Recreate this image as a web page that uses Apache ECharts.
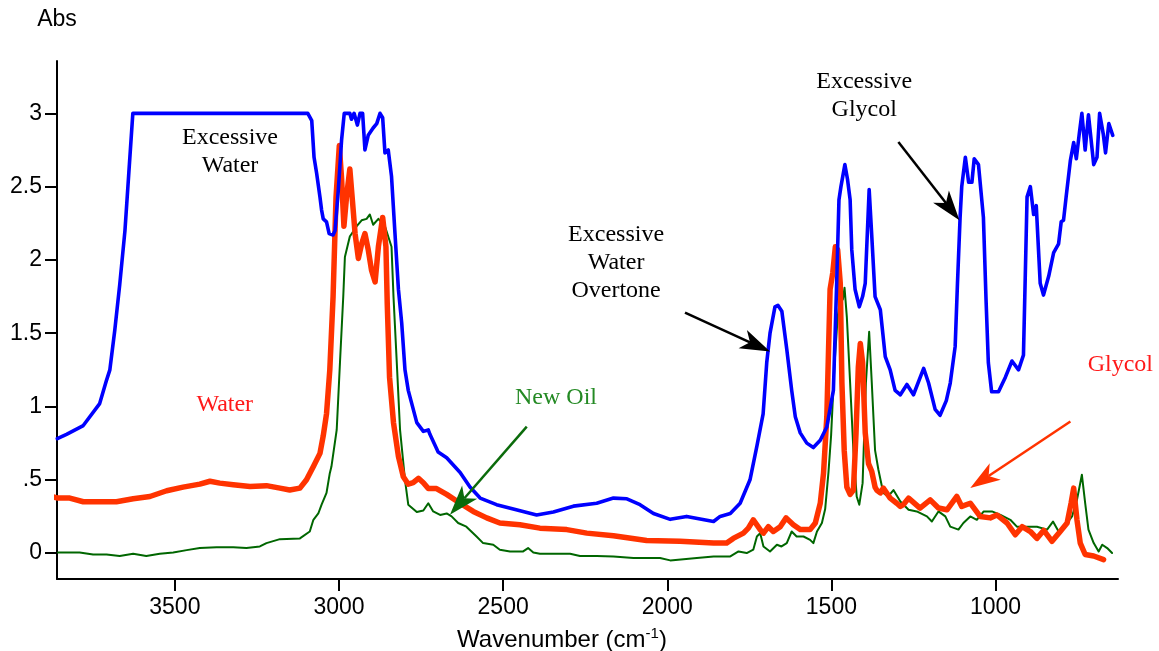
<!DOCTYPE html>
<html>
<head>
<meta charset="utf-8">
<title>IR spectra – oil contamination</title>
<script src="https://cdn.jsdelivr.net/npm/echarts@6/dist/echarts.min.js"></script>
<style>
  html, body { margin: 0; padding: 0; background: #ffffff; }
  #chart { width: 1159px; height: 651px; }
</style>
</head>
<body>
<div id="chart"></div>
<script>
// Axis ticks
const xTicks = [3500, 3000, 2500, 2000, 1500, 1000];
const yTicks = [0, 0.5, 1, 1.5, 2, 2.5, 3];

// Spectra: [wavenumber (cm-1), absorbance]
const excessive = [
  [3858,0.78],[3830,0.81],[3779,0.87],[3729,1.02],[3708,1.18],[3698,1.25],[3683,1.52],[3668,1.83],[3652,2.2],[3640,2.6],[3628,3.0],
  [3095,3.0],[3083,2.95],[3076,2.70],[3068,2.59],[3058,2.43],[3053,2.34],[3048,2.28],[3038,2.26],[3030,2.18],[3018,2.17],[3012,2.20],
  [3002,2.48],[2992,2.82],[2984,3.0],[2967,3.0],[2962,2.96],[2954,3.0],[2944,2.92],[2936,3.0],[2928,3.0],[2921,2.75],[2911,2.85],
  [2896,2.90],[2885,2.93],[2875,3.0],[2867,2.97],[2860,2.73],[2850,2.75],[2840,2.57],[2830,2.20],[2819,1.80],[2809,1.57],[2799,1.25],
  [2789,1.11],[2763,0.89],[2743,0.83],[2728,0.84],[2723,0.81],[2698,0.69],[2672,0.65],[2631,0.55],[2601,0.45],[2570,0.375],[2520,0.33],
  [2469,0.30],[2398,0.26],[2347,0.28],[2286,0.32],[2215,0.34],[2164,0.375],[2123,0.37],[2083,0.33],[2042,0.27],[1991,0.23],[1941,0.25],
  [1859,0.215],[1839,0.25],[1808,0.27],[1778,0.34],[1748,0.50],[1727,0.73],[1708,0.95],[1697,1.30],[1687,1.50],[1672,1.68],[1663,1.69],
  [1651,1.65],[1636,1.39],[1621,1.11],[1610,0.93],[1595,0.82],[1575,0.75],[1555,0.72],[1534,0.77],[1514,0.86],[1494,1.11],[1484,1.84],
  [1477,2.41],[1471,2.50],[1466,2.50],[1459,2.65],[1451,2.55],[1443,2.41],[1438,2.07],[1428,1.80],[1415,1.68],[1405,1.75],[1397,1.84],
  [1385,2.48],[1377,2.16],[1367,1.75],[1351,1.66],[1336,1.34],[1321,1.25],[1306,1.11],[1290,1.08],[1270,1.15],[1250,1.08],[1219,1.26],
  [1204,1.16],[1184,0.98],[1169,0.94],[1150,1.04],[1138,1.16],[1123,1.41],[1116,1.84],[1108,2.29],[1103,2.50],[1092,2.70],[1082,2.53],
  [1072,2.53],[1065,2.69],[1052,2.65],[1037,2.29],[1029,1.73],[1022,1.30],[1012,1.10],[991,1.10],[970,1.20],[950,1.31],[930,1.25],
  [915,1.35],[910,1.84],[904,2.43],[894,2.50],[884,2.31],[876,2.37],[864,1.84],[854,1.76],[838,1.89],[823,2.05],[808,2.11],[800,2.26],
  [793,2.27],[785,2.43],[772,2.68],[762,2.80],[754,2.69],[745,2.86],[737,3.0],[727,2.75],[717,2.99],[711,3.0],[701,2.65],[691,2.70],
  [683,3.0],[672,2.86],[665,2.73],[655,2.93],[650,2.94],[643,2.85]
];

const water = [
  [3876,0.386],[3856,0.375],[3820,0.375],[3779,0.35],[3729,0.35],[3678,0.35],[3627,0.37],[3576,0.386],[3525,0.425],[3475,0.45],
  [3424,0.47],[3393,0.49],[3363,0.477],[3322,0.466],[3271,0.454],[3221,0.46],[3180,0.443],[3150,0.43],[3119,0.443],[3099,0.50],
  [3078,0.59],[3058,0.68],[3048,0.80],[3038,0.95],[3028,1.25],[3018,1.75],[3009,2.43],[2999,2.78],[2992,2.55],[2985,2.23],[2977,2.43],
  [2967,2.62],[2960,2.43],[2951,2.18],[2941,2.01],[2931,2.11],[2921,2.18],[2911,2.07],[2901,1.93],[2890,1.85],[2880,2.09],[2867,2.29],
  [2857,2.09],[2853,1.70],[2846,1.20],[2834,0.89],[2819,0.66],[2804,0.52],[2789,0.47],[2774,0.48],[2758,0.51],[2743,0.48],[2728,0.44],
  [2703,0.44],[2672,0.40],[2631,0.34],[2591,0.284],[2550,0.24],[2510,0.205],[2449,0.193],[2388,0.17],[2306,0.16],[2245,0.136],
  [2164,0.118],[2063,0.086],[1961,0.08],[1859,0.068],[1819,0.068],[1799,0.10],[1768,0.136],[1753,0.17],[1738,0.227],[1717,0.16],
  [1707,0.136],[1692,0.18],[1677,0.147],[1656,0.18],[1638,0.24],[1616,0.193],[1595,0.16],[1565,0.16],[1549,0.205],[1534,0.34],
  [1524,0.545],[1514,0.93],[1504,1.80],[1496,1.91],[1488,2.09],[1481,2.07],[1473,1.84],[1468,1.16],[1461,0.70],[1453,0.45],[1443,0.40],
  [1433,0.43],[1425,0.82],[1418,1.27],[1412,1.43],[1405,1.30],[1397,0.82],[1387,0.61],[1377,0.556],[1367,0.45],[1362,0.43],[1351,0.41],
  [1342,0.443],[1321,0.375],[1301,0.34],[1290,0.318],[1281,0.33],[1265,0.375],[1230,0.307],[1199,0.363],[1174,0.307],[1148,0.295],
  [1118,0.386],[1103,0.318],[1077,0.34],[1047,0.25],[1016,0.24],[996,0.26],[965,0.205],[940,0.125],[919,0.18],[894,0.147],[874,0.10],
  [853,0.155],[828,0.08],[803,0.147],[782,0.205],[770,0.34],[762,0.443],[752,0.227],[742,0.068],[727,-0.01],[701,-0.02],[671,-0.045]
];

const newOil = [
  [3856,0.004],[3790,0.004],[3749,-0.01],[3708,-0.01],[3668,-0.02],[3627,-0.005],[3587,-0.02],[3546,-0.005],[3505,0.004],[3464,0.02],
  [3424,0.034],[3373,0.04],[3322,0.04],[3282,0.034],[3241,0.045],[3221,0.068],[3180,0.095],[3119,0.10],[3089,0.147],[3078,0.227],
  [3063,0.27],[3053,0.33],[3038,0.41],[3028,0.545],[3023,0.59],[3007,0.84],[2997,1.30],[2987,1.75],[2982,2.02],[2967,2.16],[2946,2.23],
  [2931,2.27],[2916,2.28],[2906,2.31],[2896,2.24],[2880,2.28],[2860,2.23],[2850,2.16],[2840,2.09],[2834,1.75],[2824,1.30],[2814,0.84],
  [2799,0.50],[2789,0.33],[2763,0.28],[2743,0.29],[2728,0.34],[2713,0.284],[2692,0.26],[2672,0.27],[2657,0.25],[2637,0.205],
  [2612,0.18],[2581,0.113],[2561,0.068],[2530,0.057],[2510,0.023],[2479,0.011],[2439,0.011],[2424,0.034],[2408,0.004],[2388,-0.005],
  [2296,-0.005],[2266,-0.02],[2215,-0.02],[2164,-0.023],[2103,-0.034],[2022,-0.034],[1991,-0.05],[1910,-0.034],[1859,-0.023],
  [1808,-0.023],[1783,0.011],[1758,0.0],[1738,0.023],[1727,0.113],[1717,0.136],[1707,0.045],[1687,0.011],[1666,0.057],[1652,0.045],
  [1636,0.068],[1621,0.147],[1606,0.113],[1585,0.113],[1565,0.09],[1555,0.068],[1544,0.147],[1529,0.205],[1519,0.30],[1509,0.55],
  [1501,0.80],[1491,1.27],[1481,1.61],[1471,1.77],[1465,1.73],[1460,1.81],[1453,1.61],[1443,1.16],[1433,0.70],[1423,0.386],
  [1415,0.33],[1405,0.477],[1395,1.16],[1385,1.51],[1377,1.16],[1367,0.70],[1357,0.57],[1342,0.41],[1327,0.386],[1311,0.43],
  [1290,0.352],[1265,0.295],[1240,0.284],[1209,0.25],[1194,0.215],[1174,0.284],[1153,0.25],[1138,0.18],[1113,0.16],[1098,0.205],
  [1077,0.25],[1057,0.227],[1036,0.284],[1011,0.284],[985,0.26],[955,0.227],[935,0.18],[904,0.18],[874,0.18],[843,0.16],[825,0.215],
  [808,0.147],[782,0.205],[767,0.25],[752,0.363],[737,0.534],[727,0.34],[717,0.16],[701,0.068],[686,0.011],[675,0.057],[660,0.034],
  [645,0.0]
];

// Callout texts, anchored in data coordinates (wavenumber, absorbance)
const notes = [
  { text: 'Excessive\nWater', at: [3332, 2.74], color: '#000000' },
  { text: 'Water', at: [3348, 1.01], color: '#ff1a1a' },
  { text: 'New Oil', at: [2339, 1.06], color: '#248a24' },
  { text: 'Excessive\nWater\nOvertone', at: [2156, 1.98], color: '#000000' },
  { text: 'Excessive\nGlycol', at: [1400, 3.12], color: '#000000' },
  { text: 'Glycol', at: [620, 1.285], color: '#ff1a1a' }
];

// Callout arrows: from -> to (tip), data coordinates
const arrows = [
  { from: [1946, 1.64], to: [1687, 1.375], color: '#000000' },
  { from: [1296, 2.805], to: [1110, 2.27], color: '#000000' },
  { from: [2428, 0.863], to: [2662, 0.261], color: '#0b6b0b' },
  { from: [772, 0.897], to: [1077, 0.443], color: '#ff3300' }
];

const SANS = '"Liberation Sans", Arial, sans-serif';
const SERIF = '"Liberation Serif", "Times New Roman", serif';

const chart = echarts.init(document.getElementById('chart'), null, { renderer: 'canvas' });

function lineSeries(name, data, color, width, clip) {
  return {
    name, type: 'line', data,
    showSymbol: false, symbol: 'none', smooth: false, clip,
    lineStyle: { color, width, cap: 'round', join: 'round' },
    emphasis: { disabled: true },
    silent: true, z: 2
  };
}

chart.setOption({
  animation: false,
  backgroundColor: '#ffffff',
  grid: { left: 57, right: 41, top: 61, bottom: 72, containLabel: false, outerBoundsMode: 'none' },
  xAxis: {
    type: 'value', inverse: true, min: 627, max: 3859,
    splitLine: { show: false },
    axisLine: { show: true, onZero: false, lineStyle: { color: '#000', width: 2 } },
    axisTick: { show: true, customValues: xTicks, length: 12, lineStyle: { color: '#000', width: 2 } },
    axisLabel: {
      customValues: xTicks, color: '#000', fontSize: 23, fontFamily: SANS, margin: 17,
      formatter: v => String(v)
    },
    name: '{t|Wavenumber (cm}{s|-1}{t|)}',
    nameLocation: 'middle', nameGap: 47,
    nameTextStyle: {
      padding: [0, 51, 0, 0],
      rich: {
        t: { fontSize: 24, fontFamily: SANS, color: '#000', lineHeight: 28 },
        s: { fontSize: 15, fontFamily: SANS, color: '#000', lineHeight: 16, verticalAlign: 'top' }
      }
    }
  },
  yAxis: {
    type: 'value', min: -0.177, max: 3.357,
    splitLine: { show: false },
    axisLine: { show: true, onZero: false, lineStyle: { color: '#000', width: 2 } },
    axisTick: { show: true, customValues: yTicks, length: 12, lineStyle: { color: '#000', width: 2 } },
    axisLabel: {
      customValues: yTicks, color: '#000', fontSize: 23, fontFamily: SANS, margin: 15,
      formatter: v => (v > 0 && v < 1) ? String(v).replace(/^0/, '') : String(v)
    },
    name: 'Abs', nameLocation: 'end', nameGap: 30,
    nameTextStyle: { color: '#000', fontSize: 23, fontFamily: SANS, align: 'center' }
  },
  series: [
    lineSeries('New Oil', newOil, '#006600', 2, true),
    lineSeries('Water', water, '#ff3300', 5.5, false),
    lineSeries('Excessive', excessive, '#0000ff', 3.6, true)
  ]
});

// Callouts: arrows with concave heads and serif labels
function buildCallouts() {
  const toPx = p => chart.convertToPixel({ xAxisIndex: 0, yAxisIndex: 0 }, p);
  const els = [];
  arrows.forEach(a => {
    const p0 = toPx(a.from), p1 = toPx(a.to);
    const dx = p1[0] - p0[0], dy = p1[1] - p0[1];
    const len = Math.hypot(dx, dy);
    const ux = dx / len, uy = dy / len, nx = -uy, ny = ux;
    const L = 30, W = 10, notch = 8;
    const back = [p1[0] - ux * L, p1[1] - uy * L];
    const mid = [p1[0] - ux * (L - notch), p1[1] - uy * (L - notch)];
    els.push({
      type: 'line', silent: true, z: 10,
      shape: { x1: p0[0], y1: p0[1], x2: mid[0], y2: mid[1] },
      style: { stroke: a.color, lineWidth: 2.5 }
    });
    els.push({
      type: 'polygon', silent: true, z: 10,
      shape: { points: [p1, [back[0] + nx * W, back[1] + ny * W], mid, [back[0] - nx * W, back[1] - ny * W]] },
      style: { fill: a.color }
    });
  });
  notes.forEach(n => {
    const p = toPx(n.at);
    els.push({
      type: 'text', silent: true, z: 10, x: p[0], y: p[1],
      style: {
        text: n.text, fill: n.color, font: '24px ' + SERIF, lineHeight: 28,
        align: 'center', verticalAlign: 'middle', textAlign: 'center', textVerticalAlign: 'middle'
      }
    });
  });
  chart.setOption({ graphic: els });
}
buildCallouts();
</script>
</body>
</html>
